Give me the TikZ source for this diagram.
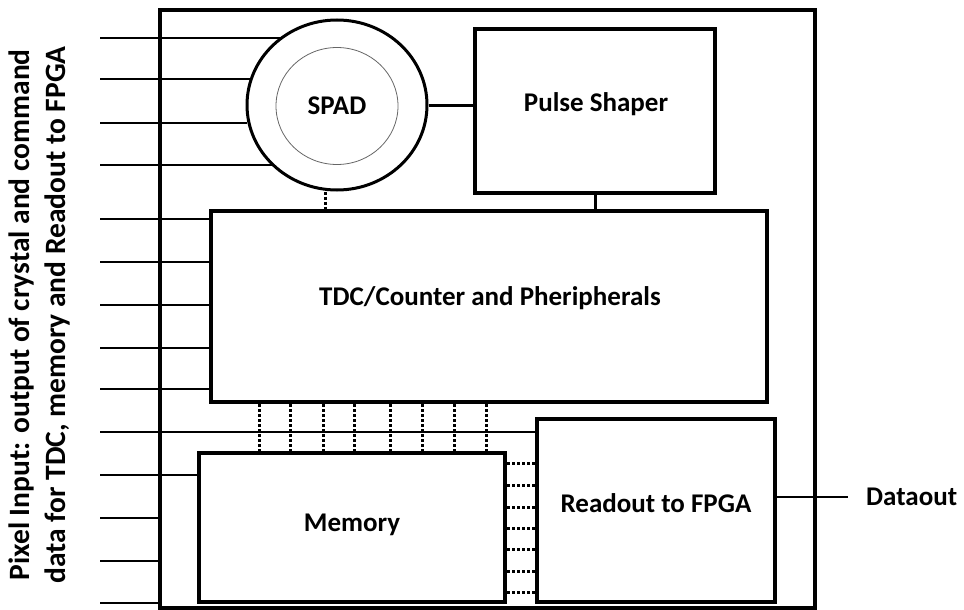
\documentclass[tikz,border=0pt]{standalone}
\usepackage{fontspec}
\setmainfont{Carlito}
\usetikzlibrary{shapes.geometric}
\tikzset{
  blk/.style={draw, line width=4pt, rectangle, inner sep=0pt, font=\fontsize{27}{32}\selectfont\bfseries},
  outerbox/.style={draw, line width=4pt, rectangle, inner sep=0pt},
  wire/.style={line width=2.5pt},
  link/.style={line width=3pt},
  dotv/.style={line width=3pt, dash pattern=on 3pt off 2pt},
  lbl/.style={font=\fontsize{27}{32}\selectfont\bfseries, inner sep=0pt}
}
\begin{document}
\begin{tikzpicture}[x=1pt,y=-1pt]
\useasboundingbox (0,0) rectangle (964,610);
% outer chip box
\node[outerbox, minimum width=655pt, minimum height=598pt] (outer) at (487.5,309) {};
% SPAD
\node[draw, ellipse, line width=3pt, minimum width=180pt, minimum height=170pt, inner sep=0pt] (spadO) at (337,105) {};
\node[draw, ellipse, line width=0.8pt, draw=black!60, minimum width=122pt, minimum height=117pt, inner sep=0pt, font=\fontsize{27}{32}\selectfont\bfseries] (spadI) at (337,106) {SPAD};
% blocks
\node[blk, minimum width=240pt, minimum height=164pt] (pulse) at (595,111) {};
\node[lbl] (pulsetxt) at (596,104) {Pulse Shaper};
\node[blk, minimum width=556pt, minimum height=191pt] (tdc) at (489,306.5) {};
\node[lbl] (tdctxt) at (490,298) {TDC/Counter and Pheripherals};
\node[blk, minimum width=306pt, minimum height=149pt] (mem) at (352,527.5) {};
\node[lbl] (memtxt) at (352,525) {Memory};
\node[blk, minimum width=238pt, minimum height=183pt] (ro) at (656,510.5) {};
\node[lbl] (rotxt) at (656,503) {Readout to FPGA};
% side label
\node[lbl, rotate=90, align=center, font=\fontsize{29.5}{36}\selectfont\bfseries] (side) at (39,315) {Pixel Input: output of crystal and command\\data for TDC, memory and Readout to FPGA};
% input line start points
\coordinate (i1) at (100,38);
\coordinate (i2) at (100,79);
\coordinate (i3) at (100,123);
\coordinate (i4) at (100,165);
\coordinate (i5) at (100,219);
\coordinate (i6) at (100,262);
\coordinate (i7) at (100,305);
\coordinate (i8) at (100,348);
\coordinate (i9) at (100,389);
\coordinate (i10) at (100,432);
\coordinate (i11) at (100,475);
\coordinate (i12) at (100,518);
\coordinate (i13) at (100,561);
\coordinate (i14) at (100,603);
% inputs to SPAD
\draw[wire] (i1) -- (i1 -| spadO.129.6);
\draw[wire] (i2) -- (i2 -| spadO.163.1);
\draw[wire] (i3) -- (i3 -| spadO.191.6);
\draw[wire] (i4) -- (i4 -| spadO.223.3);
% inputs to TDC
\foreach \k in {5,6,7,8,9} \draw[wire] (i\k) -- (i\k -| tdc.west);
% input to readout
\draw[wire] (i10) -- (i10 -| ro.west);
% input to memory
\draw[wire] (i11) -- (i11 -| mem.west);
% inputs to outer box
\foreach \k in {12,13,14} \draw[wire] (i\k) -- (i\k -| outer.west);
% SPAD to pulse shaper
\draw[link] (spadO.east) -- (spadO.east -| pulse.west);
% SPAD to TDC dotted
\draw[dotv] ([xshift=-12pt]spadO.south) -- ([xshift=-12pt]spadO.south |- tdc.north);
% pulse shaper to TDC
\draw[link] (pulse.south) -- (pulse.south |- tdc.north);
% TDC to memory dotted bus
\foreach \xx in {259,290,323,354,390,422,454,486}
  \draw[dotv] (tdc.south -| \xx,0) -- (mem.north -| \xx,0);
% memory to readout dotted bus
\foreach \yy in {463,485,507,528,549,571,592}
  \draw[dotv] (mem.east |- 0,\yy) -- (ro.west |- 0,\yy);
% dataout
\coordinate (dout) at (848,497);
\draw[wire] (ro.east |- dout) -- (dout);
\node[lbl, anchor=west] (douttxt) at (866,497) {Dataout};
\end{tikzpicture}
\end{document}
